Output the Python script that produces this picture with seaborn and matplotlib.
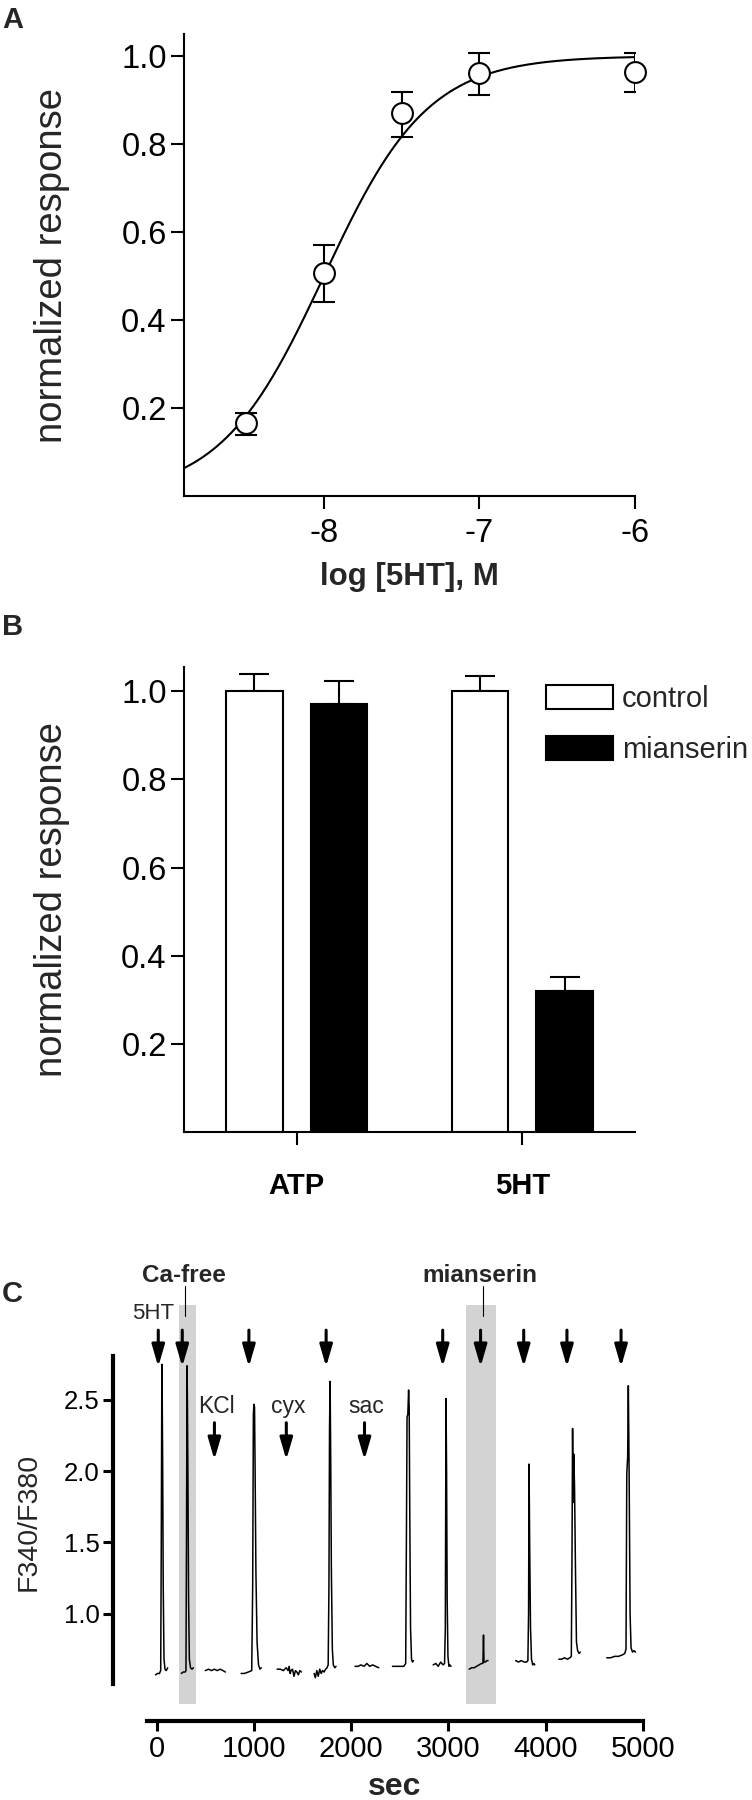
import numpy as np
import pandas as pd
import seaborn as sns
from matplotlib import pyplot as plt

# ---- panel A: concentration-response to 5HT ----
log_conc = [-8.5, -8.0, -7.5, -7.0, -6.0]
resp_mean = [0.165, 0.507, 0.870, 0.962, 0.964]
resp_low = [0.138, 0.441, 0.817, 0.912, 0.919]
resp_high = [0.188, 0.570, 0.919, 1.006, 1.006]
# Hill fit parameters of the curve
fit_log_ec50 = -8.0
fit_hill = 1.3
fit_bottom = 0.0
fit_top = 1.0

# ---- panel B: mianserin block ----
agonists = ['ATP', 'ATP', '5HT', '5HT']
treatments = ['control', 'mianserin', 'control', 'mianserin']
bar_means = [1.0, 0.971, 1.0, 0.319]
bar_sem = [0.040, 0.053, 0.034, 0.033]

# ---- panel C: Fura-2 ratio sweeps ----
sweep_t = [
    [-15, 5, 25, 38, 44, 50, 54, 58, 64, 72, 82, 95, 110],
    [250, 270, 290, 298, 304, 309, 313, 318, 325, 333, 345, 360, 374],
    [497, 530, 560, 590, 620, 650, 680, 704],
    [866, 900, 940, 975, 985, 992, 998, 1004, 1010, 1018, 1030, 1045, 1060, 1073],
    [1237, 1270, 1300, 1330, 1350, 1360, 1370, 1380, 1395, 1410, 1425, 1440, 1455, 1470, 1486],
    [1617, 1630, 1645, 1660, 1675, 1690, 1705, 1720, 1735, 1750, 1762, 1770, 1776, 1782, 1788,
     1795, 1805, 1815, 1830, 1843],
    [2038, 2070, 2100, 2130, 2160, 2190, 2220, 2250, 2283],
    [2424, 2460, 2500, 2540, 2560, 2568, 2574, 2582, 2590, 2596, 2602, 2610, 2620, 2630, 2640],
    [2843, 2870, 2895, 2920, 2945, 2960, 2968, 2975, 2981, 2987, 2995, 3005, 3015, 3026],
    [3213, 3240, 3265, 3290, 3315, 3340, 3355, 3361, 3366, 3380, 3395, 3408],
    [3692, 3720, 3750, 3780, 3805, 3818, 3825, 3830, 3836, 3845, 3855, 3868, 3880, 3889],
    [4136, 4165, 4195, 4225, 4250, 4265, 4272, 4278, 4284, 4290, 4298, 4308, 4318, 4330, 4345, 4357],
    [4630, 4670, 4710, 4750, 4790, 4815, 4828, 4836, 4845, 4852, 4860, 4870, 4880, 4895, 4910, 4926],
]
sweep_ratio = [
    [0.57, 0.58, 0.58, 0.60, 1.50, 2.75, 2.48, 2.08, 1.20, 0.68, 0.61, 0.60, 0.62],
    [0.58, 0.59, 0.59, 0.60, 1.60, 2.74, 2.50, 2.00, 1.10, 0.68, 0.62, 0.61, 0.62],
    [0.60, 0.61, 0.60, 0.61, 0.60, 0.61, 0.60, 0.59],
    [0.58, 0.58, 0.59, 0.60, 1.20, 2.40, 2.47, 2.45, 2.00, 1.30, 0.80, 0.64, 0.61, 0.62],
    [0.61, 0.61, 0.60, 0.62, 0.60, 0.63, 0.58, 0.60, 0.61, 0.56, 0.60, 0.59, 0.57, 0.60, 0.59],
    [0.58, 0.55, 0.60, 0.56, 0.61, 0.58, 0.60, 0.59, 0.61, 0.62, 0.64, 1.20, 2.30, 2.63, 2.10,
     1.30, 0.75, 0.64, 0.62, 0.63],
    [0.63, 0.63, 0.64, 0.63, 0.65, 0.63, 0.64, 0.63, 0.62],
    [0.63, 0.63, 0.63, 0.63, 0.65, 1.60, 2.38, 2.40, 2.57, 2.45, 1.70, 0.90, 0.68, 0.66, 0.67],
    [0.64, 0.65, 0.63, 0.66, 0.64, 0.65, 0.90, 2.51, 2.00, 1.10, 0.70, 0.63, 0.64, 0.63],
    [0.61, 0.62, 0.62, 0.63, 0.64, 0.65, 0.65, 0.85, 0.66, 0.66, 0.67, 0.67],
    [0.67, 0.66, 0.67, 0.66, 0.66, 0.67, 1.00, 2.05, 1.50, 0.90, 0.68, 0.64, 0.65, 0.64],
    [0.68, 0.68, 0.69, 0.68, 0.69, 0.70, 1.40, 2.30, 1.78, 2.12, 1.90, 1.30, 0.80, 0.74, 0.72, 0.73],
    [0.69, 0.69, 0.70, 0.70, 0.71, 0.72, 0.75, 1.98, 2.10, 2.60, 2.00, 1.00, 0.76, 0.73, 0.74, 0.73],
]
arrow_5ht_t = [13, 260, 946, 1741, 2941, 3331, 3775, 4220, 4777]
other_drugs = ['KCl', 'cyx', 'sac']
other_drug_t = [591, 1331, 2136]
ca_free_window = [226, 398]
mianserin_window = [3182, 3488]

sns.set_theme(style='ticks')
plt.rcParams['font.family'] = ['Liberation Sans', 'DejaVu Sans']
plt.rcParams['axes.unicode_minus'] = False
plt.rcParams['axes.linewidth'] = 1.5
plt.rcParams['xtick.major.width'] = 1.5
plt.rcParams['ytick.major.width'] = 1.5
plt.rcParams['xtick.major.size'] = 9.5
plt.rcParams['ytick.major.size'] = 9.5
plt.rcParams['xtick.color'] = 'black'
plt.rcParams['ytick.color'] = 'black'
plt.rcParams['axes.edgecolor'] = 'black'

fig = plt.figure(figsize=(7.52, 18), dpi=100)
axA = fig.add_axes([0.2447, 0.72444, 0.5997, 0.25667])
axB = fig.add_axes([0.2447, 0.37111, 0.5997, 0.25833])
axC = fig.add_axes([0.15027, 0.04411, 0.70479, 0.202])

# ---------- A ----------
fit_x = np.linspace(-8.9, -6.0, 300)
fit_y = fit_bottom + (fit_top - fit_bottom) / (1 + 10 ** ((fit_log_ec50 - fit_x) * fit_hill))
sns.lineplot(x=fit_x, y=fit_y, color='black', lw=1.5, ax=axA, zorder=1)
mean = np.array(resp_mean)
axA.errorbar(log_conc, resp_mean,
             yerr=[mean - np.array(resp_low), np.array(resp_high) - mean],
             fmt='none', ecolor='black', elinewidth=1.5, capsize=7.8, capthick=1.5, zorder=2)
sns.scatterplot(x=log_conc, y=resp_mean, s=225, marker='o', facecolor='white',
                edgecolor='black', linewidth=1.5, ax=axA, zorder=3, clip_on=False)
axA.set_xlim(-8.9, -6.0)
axA.set_ylim(0, 1.05)
axA.set_xticks([-8, -7, -6])
axA.set_yticks([0.2, 0.4, 0.6, 0.8, 1.0])
axA.tick_params(axis='y', labelsize=23.5, pad=3)
axA.tick_params(axis='x', labelsize=23.5, pad=6)
axA.set_ylabel('normalized response', fontsize=27.5)
axA.yaxis.set_label_coords(-0.253, 0.5)
axA.set_xlabel('log [5HT], M', fontsize=22.5, fontweight='bold')
axA.xaxis.set_label_coords(0.5, -0.143)
sns.despine(ax=axA)

# ---------- B ----------
df_bar = pd.DataFrame({'agonist': agonists, 'treatment': treatments,
                       'response': bar_means, 'err': bar_sem})
order = ['ATP', '5HT']
hue_order = ['control', 'mianserin']
sns.barplot(data=df_bar, x='agonist', y='response', hue='treatment', order=order,
            hue_order=hue_order, palette={'control': 'white', 'mianserin': 'black'},
            edgecolor='black', linewidth=1.5, width=0.75, gap=0.33, errorbar=None,
            ax=axB, zorder=2)
for container, level in zip(list(axB.containers), hue_order):
    for bar, ag in zip(container, order):
        row = df_bar[(df_bar['agonist'] == ag) & (df_bar['treatment'] == level)].iloc[0]
        cx = bar.get_x() + bar.get_width() / 2
        axB.errorbar([cx], [row['response']], yerr=[[0], [row['err']]], fmt='none',
                     ecolor='black', elinewidth=1.5, capsize=10.8, capthick=1.5, zorder=1)
old_leg = axB.get_legend()
handles = old_leg.legend_handles
labels = [t.get_text() for t in old_leg.get_texts()]
for h in handles:
    h.set_edgecolor('black')
    h.set_linewidth(1.5)
axB.legend(handles, labels, loc='upper left', bbox_to_anchor=(0.803, 0.962),
           frameon=False, fontsize=21, handlelength=2.3, handleheight=0.9,
           handletextpad=0.3, labelspacing=0.8, borderpad=0, borderaxespad=0)
axB.set_xlim(-0.5, 1.5)
axB.set_ylim(0, 1.055)
axB.set_yticks([0.2, 0.4, 0.6, 0.8, 1.0])
axB.tick_params(axis='y', labelsize=23.5, pad=3)
axB.tick_params(axis='x', labelsize=21, pad=19)
for lab in axB.get_xticklabels():
    lab.set_fontweight('bold')
axB.set_xlabel('')
axB.set_ylabel('normalized response', fontsize=27.5)
axB.yaxis.set_label_coords(-0.253, 0.5)
sns.despine(ax=axB)

# ---------- C ----------
df_trace = pd.DataFrame({
    'sec': [t for seg in sweep_t for t in seg],
    'ratio': [r for seg in sweep_ratio for r in seg],
    'sweep': [i for i, seg in enumerate(sweep_t) for _ in seg],
})
for win in (ca_free_window, mianserin_window):
    axC.fill_between(win, 0.365, 3.165, color='#d3d3d3', lw=0, zorder=0, clip_on=False)
sns.lineplot(data=df_trace, x='sec', y='ratio', units='sweep', estimator=None,
             color='black', lw=1.1, ax=axC, zorder=2)
arrow_kw = dict(arrowstyle='-|>,head_length=1.1,head_width=0.32', lw=2.2,
                color='black', shrinkA=0, shrinkB=0)
for t in arrow_5ht_t:
    axC.annotate('', xy=(t, 2.733), xytext=(t, 2.99), arrowprops=arrow_kw,
                 annotation_clip=False)
for name, t in zip(other_drugs, other_drug_t):
    axC.annotate('', xy=(t, 2.08), xytext=(t, 2.34), arrowprops=arrow_kw,
                 annotation_clip=False)
    axC.text(t + 22, 2.41, name, ha='center', va='baseline', fontsize=16.5)
axC.text(-41, 3.066, '5HT', ha='center', va='baseline', fontsize=16, clip_on=False)
axC.text(280, 3.33, 'Ca-free', ha='center', va='baseline', fontsize=17.5,
         fontweight='bold', clip_on=False)
axC.text(3320, 3.33, 'mianserin', ha='center', va='baseline', fontsize=17.5,
         fontweight='bold', clip_on=False)
axC.plot([288, 288], [3.09, 3.30], color='black', lw=0.8, clip_on=False)
axC.plot([3360, 3360], [3.09, 3.30], color='black', lw=0.8, clip_on=False)

axC.set_xlim(-453, 5003)
axC.set_ylim(0.249, 2.8015)
axC.set_xticks([0, 1000, 2000, 3000, 4000, 5000])
axC.set_yticks([1.0, 1.5, 2.0, 2.5])
sns.despine(ax=axC)
axC.spines['left'].set_bounds(0.505, 2.81)
axC.spines['bottom'].set_bounds(-100, 5000)
axC.spines['left'].set_linewidth(3)
axC.spines['bottom'].set_linewidth(3)
axC.tick_params(axis='both', width=2.2, length=7.5)
axC.tick_params(axis='y', labelsize=18.5, pad=2)
axC.tick_params(axis='x', labelsize=21, pad=3)
for lab in axC.get_xticklabels():
    lab.set_family(['Liberation Sans Narrow', 'Liberation Sans'])
axC.set_ylabel('F340/F380', fontsize=20.5)
axC.yaxis.set_label_coords(-0.134, 0.546)
axC.set_xlabel('sec', fontsize=23, fontweight='bold',
               family=['Liberation Sans Narrow', 'Liberation Sans'])
axC.xaxis.set_label_coords(0.532, -0.141)

# panel letters
fig.text(2 / 752, 1 - 28 / 1800, 'A', fontsize=21, fontweight='bold', va='baseline')
fig.text(2 / 752, 1 - 635 / 1800, 'B', fontsize=21, fontweight='bold', va='baseline')
fig.text(2 / 752, 1 - 1302 / 1800, 'C', fontsize=21, fontweight='bold', va='baseline')

fig.savefig('out.png', dpi=100, facecolor='white')
